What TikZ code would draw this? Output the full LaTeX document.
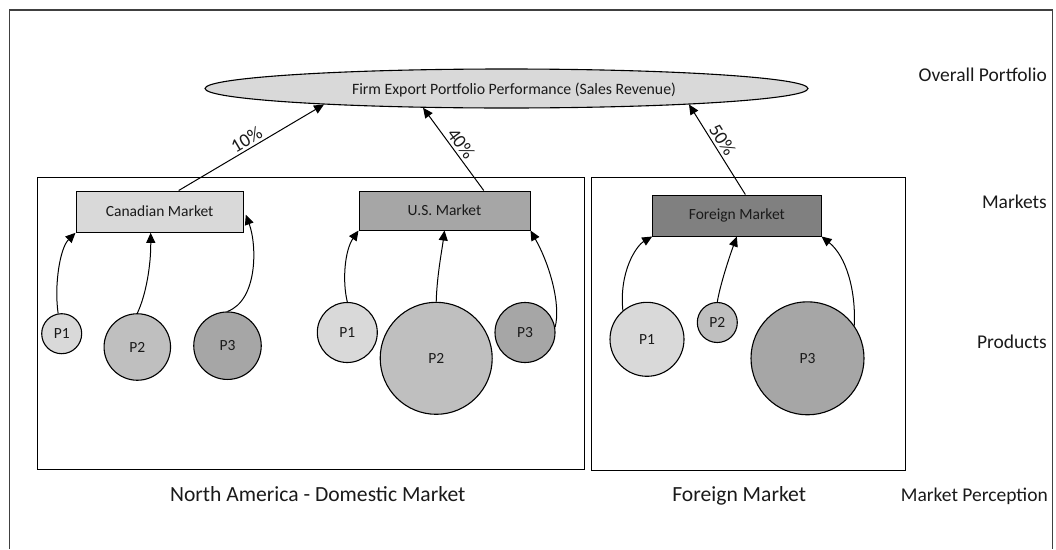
\documentclass[tikz,border=0pt]{standalone}
\usepackage{fontspec}
\setmainfont{Carlito}
\usetikzlibrary{arrows.meta,shapes.geometric}

\definecolor{fillA}{HTML}{D9D9D9}
\definecolor{fillB}{HTML}{BFBFBF}
\definecolor{fillC}{HTML}{A6A6A6}
\definecolor{fillD}{HTML}{808080}
\definecolor{ink}{HTML}{1A1A1A}

\begin{document}
\begin{tikzpicture}[x=1pt,y=-1pt,
  every node/.style={text=ink},
  mkt/.style={draw=black, line width=1pt, rectangle, inner sep=0pt,
    font=\fontsize{15.5}{18}\selectfont},
  prod/.style={draw=black, line width=1.1pt, circle, inner sep=0pt,
    font=\fontsize{15.5}{18}\selectfont},
  link/.style={line width=1pt, -{Triangle[length=10pt,width=9pt]}},
  pct/.style={sloped, above, inner sep=2.5pt, font=\fontsize{19}{22}\selectfont},
  level/.style={anchor=base east, inner sep=0pt, font=\fontsize{19.5}{23}\selectfont},
  region/.style={anchor=base, inner sep=0pt, font=\fontsize{21.6}{26}\selectfont},
  group/.style={draw=black, line width=1pt, rectangle, inner sep=0pt}
]
\useasboundingbox (0,0) rectangle (1056,549);

% outer frame, running off the bottom of the page
\draw[line width=1.6pt, black!75] (9.5,549) -- (9.5,10) -- (1052.5,10) -- (1052.5,549);

% market perception groups
\node[group, minimum width=546.5pt, minimum height=292.5pt] (dom) at (310.75,323.25) {};
\node[group, minimum width=313.5pt, minimum height=293.5pt] (for) at (748.25,323.75) {};

% overall portfolio
\node[ellipse, draw=black, fill=fillA, line width=1.1pt, inner sep=0pt,
      minimum width=603pt, minimum height=39pt] (port) at (506.5,88.5) {};
\node[font=\fontsize{15.8}{18}\selectfont] (porttext) at (514,89.5)
  {Firm Export Portfolio Performance (Sales Revenue)};

% markets
\node[mkt, fill=fillA, minimum width=167.3pt, minimum height=41.3pt] (cm) at (159.65,211.65) {Canadian Market};
\node[mkt, fill=fillC, minimum width=171pt, minimum height=39pt] (um) at (444.5,210.5) {U.S. Market};
\node[mkt, fill=fillD, minimum width=168.3pt, minimum height=41pt] (fm) at (736.85,215.5) {Foreign Market};

% products
\node[prod, fill=fillA, minimum size=40pt]   (cP1) at (61.7,333.7) {P1};
\node[prod, fill=fillB, minimum size=66.5pt] (cP2) at (137.3,347) {P2};
\node[prod, fill=fillC, minimum size=67.5pt] (cP3) at (227.5,345.7) {P3};
\node[prod, fill=fillA, minimum size=60pt]   (uP1) at (347.3,332.5) {P1};
\node[prod, fill=fillB, minimum size=112pt]  (uP2) at (436.2,358.3) {P2};
\node[prod, fill=fillC, minimum size=60pt]   (uP3) at (525,332.5) {P3};
\node[prod, fill=fillA, minimum size=74pt]   (fP1) at (647,339.3) {P1};
\node[prod, fill=fillB, minimum size=40pt]   (fP2) at (717.3,322.5) {P2};
\node[prod, fill=fillC, minimum size=113pt]  (fP3) at (807.5,358.3) {P3};

% products feed their markets
\draw[link] (cP1.100) .. controls (54,285) and (60,248) .. (cm.south west);
\draw[link] (cP2.north) .. controls (146,295) and (151,265) .. ([xshift=-9pt]cm.south);
\draw[link] (cP3.north) .. controls (258,300) and (257,245) .. ([xshift=2pt,yshift=-3pt]cm.east);
\draw[link] (uP1.north) .. controls (342,280) and (345,250) .. (um.south west);
\draw[link] (uP2.north) .. controls (437,275) and (442,250) .. (um.south);
\draw[link] (uP3.10) .. controls (561,305) and (550,265) .. (um.south east);
\draw[link] (fP1.130) .. controls (619,272) and (636,246) .. (fm.south west);
\draw[link] (fP2.north) .. controls (720,285) and (730,255) .. (fm.south);
\draw[link] (fP3.35) .. controls (856,290) and (846,256) .. (fm.south east);

% markets feed the portfolio
\draw[link] (cm.48) -- node[pct] {10\%} (port.185);
\draw[link] (um.27) -- node[pct] {40\%} (port.193.8);
\draw[link] (fm.68) -- node[pct, pos=0.55] {50\%} (port.355.6);

% level captions
\node[level] (lvl1) at (1047,81.7) {Overall Portfolio};
\node[level] (lvl2) at (1047,208.3) {Markets};
\node[level] (lvl3) at (1047,348.3) {Products};
\node[level] (lvl4) at (1048,501.5) {Market Perception};

% group captions
\node[region] (domlbl) at (317.7,501.7) {North America - Domestic Market};
\node[region] (forlbl) at (739.2,501.7) {Foreign Market};
\end{tikzpicture}
\end{document}
